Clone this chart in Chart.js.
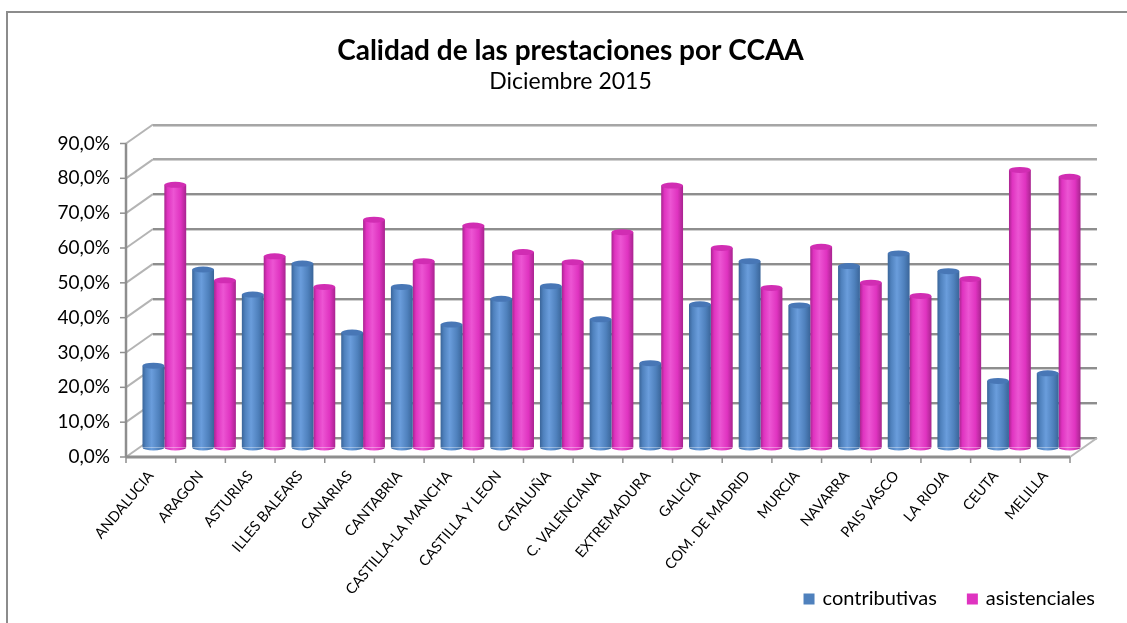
<!DOCTYPE html>
<html><head><meta charset="utf-8">
<script src="https://cdn.jsdelivr.net/npm/chart.js@4.4.1/dist/chart.umd.min.js"></script>
<style>html,body{margin:0;padding:0;background:#fff}</style>
</head><body>
<canvas id="c" width="1127" height="623"></canvas>
<script>
const categories = ['ANDALUCIA','ARAGON','ASTURIAS','ILLES BALEARS','CANARIAS','CANTABRIA','CASTILLA-LA MANCHA','CASTILLA Y LEON','CATALUÑA','C. VALENCIANA','EXTREMADURA','GALICIA','COM. DE MADRID','MURCIA','NAVARRA','PAIS VASCO','LA RIOJA','CEUTA','MELILLA'];
const contributivas = [23.5,51.1,43.9,52.8,33.0,46.1,35.3,42.7,46.3,36.8,24.2,41.1,53.5,40.8,52.1,55.7,50.6,19.1,21.3];
const asistenciales = [75.4,48.0,54.9,46.1,65.4,53.5,63.7,56.1,53.2,61.8,75.2,57.3,45.8,57.6,47.3,43.5,48.4,79.7,77.7];
const yTickValues = [0,10,20,30,40,50,60,70,80,90];
const seriesNames = ['contributivas','asistenciales'];

const DX = 13.5, DY = 9.5;
const FONT = 'Lato';
const colors = {
  blue: {main:'#4f81bd', light:'#6a9ddc', dark:'#3a6599', top:'#4877b6'},
  pink: {main:'#df33c0', light:'#ec55d3', dark:'#a8248f', top:'#d12db3'}
};

function cylGradient(ctx, x, width, c){
  const g = ctx.createLinearGradient(x - width/2, 0, x + width/2, 0);
  g.addColorStop(0, c.dark); g.addColorStop(0.15, c.main); g.addColorStop(0.42, c.light);
  g.addColorStop(0.75, c.main); g.addColorStop(1, c.dark);
  return g;
}

const frame = {
  id:'frame',
  beforeDraw(chart){
    const ctx = chart.ctx;
    ctx.save();
    ctx.strokeStyle = '#8c8c8c'; ctx.lineWidth = 2;
    ctx.strokeRect(7, 12, 1140, 640);
    ctx.restore();
  }
};

// legend drawn at the bottom right, overlapping the space of the rotated labels
const bottomLegend = {
  id:'bottomLegend',
  afterDraw(chart){
    const ctx = chart.ctx;
    ctx.save();
    ctx.font = `20px ${FONT}`;
    ctx.textBaseline = 'middle';
    ctx.textAlign = 'left';
    const yMid = 599, box = 11, gap = 8, itemGap = 30;
    let xr = 1095;
    for (let i = chart.data.datasets.length - 1; i >= 0; i--) {
      const ds = chart.data.datasets[i];
      const w = ctx.measureText(ds.label).width;
      const tx = xr - w;
      ctx.fillStyle = '#000';
      ctx.fillText(ds.label, tx, yMid);
      ctx.fillStyle = ds.backgroundColor;
      ctx.fillRect(tx - gap - box, yMid - box/2, box, box);
      xr = tx - gap - box - itemGap;
    }
    ctx.restore();
  }
};

const walls = {
  id:'walls',
  beforeDatasetsDraw(chart){
    const ctx = chart.ctx, ys = chart.scales.y;
    const L = chart.chartArea.left, R = chart.chartArea.right;
    const n = categories.length, cw = (R - L) / n;
    ctx.save();
    yTickValues.forEach(v => {
      const ym = ys.getPixelForValue(v);
      ctx.strokeStyle = '#b4b4b4'; ctx.lineWidth = 2;
      ctx.beginPath(); ctx.moveTo(L - DX, ym + DY); ctx.lineTo(L + DX, ym - DY); ctx.stroke();
    });
    yTickValues.forEach(v => {
      const yb = Math.round(ys.getPixelForValue(v) - DY);
      ctx.strokeStyle = v >= 80 ? '#a6a6a6' : '#8e8e8e'; ctx.lineWidth = 2;
      ctx.beginPath(); ctx.moveTo(L + DX, yb); ctx.lineTo(R + DX, yb); ctx.stroke();
      ctx.strokeStyle = '#cfcfcf'; ctx.lineWidth = 1;
      ctx.beginPath(); ctx.moveTo(L + DX, yb + 1.5); ctx.lineTo(R + DX, yb + 1.5); ctx.stroke();
    });
    const y0 = ys.getPixelForValue(0), yTop = ys.getPixelForValue(90);
    ctx.strokeStyle = '#b8b8b8'; ctx.lineWidth = 2;
    ctx.beginPath(); ctx.moveTo(R - DX, y0 + DY); ctx.lineTo(R + DX, y0 - DY); ctx.stroke();
    ctx.strokeStyle = '#8e8e8e'; ctx.lineWidth = 3;
    ctx.beginPath(); ctx.moveTo(L - DX, y0 + DY); ctx.lineTo(R - DX, y0 + DY); ctx.stroke();
    ctx.lineWidth = 2.5;
    ctx.beginPath(); ctx.moveTo(L - DX, yTop + DY); ctx.lineTo(L - DX, y0 + DY); ctx.stroke();
    ctx.lineWidth = 1.5;
    yTickValues.forEach(v => {
      const yf = ys.getPixelForValue(v) + DY;
      ctx.beginPath(); ctx.moveTo(L - DX - 6, yf); ctx.lineTo(L - DX, yf); ctx.stroke();
    });
    for (let k = 0; k <= n; k++) {
      const xf = L - DX + k * cw;
      ctx.beginPath(); ctx.moveTo(xf, y0 + DY); ctx.lineTo(xf, y0 + DY + 6); ctx.stroke();
    }
    chart.data.datasets.forEach((ds, di) => {
      const c = di === 0 ? colors.blue : colors.pink;
      chart.getDatasetMeta(di).data.forEach(el => {
        const {x, width} = el.getProps(['x','width'], true);
        el.options = Object.assign({}, el.options, {backgroundColor: cylGradient(ctx, x, width, c)});
      });
    });
    ctx.restore();
  },
  afterDatasetsDraw(chart){
    const ctx = chart.ctx;
    ctx.save();
    chart.data.datasets.forEach((ds, di) => {
      const c = di === 0 ? colors.blue : colors.pink;
      chart.getDatasetMeta(di).data.forEach(el => {
        const {x, y, width, base} = el.getProps(['x','y','width','base'], true);
        ctx.fillStyle = cylGradient(ctx, x, width, c);
        ctx.beginPath(); ctx.ellipse(x, base, width/2, 3, 0, 0, Math.PI); ctx.fill();
        ctx.fillStyle = c.top;
        ctx.beginPath(); ctx.ellipse(x, y, width/2, 3, 0, 0, 2*Math.PI); ctx.fill();
      });
    });
    ctx.restore();
  }
};

const chart = new Chart(document.getElementById('c'), {
  type:'bar',
  data:{
    labels: categories,
    datasets:[
      {label: seriesNames[0], data: contributivas, backgroundColor: colors.blue.main, borderWidth:0, categoryPercentage:0.88, barPercentage:1},
      {label: seriesNames[1], data: asistenciales, backgroundColor: colors.pink.main, borderWidth:0, categoryPercentage:0.88, barPercentage:1}
    ]
  },
  options:{
    responsive:false, animation:false, devicePixelRatio:1,
    layout:{padding:{left:16, right:2, top:0, bottom:0}},
    plugins:{
      title:{display:true, text:'Calidad de las prestaciones por CCAA', color:'#000', font:{family:FONT, size:28, weight:'bold'}, padding:{top:34.5, bottom:0}},
      subtitle:{display:true, text:'Diciembre 2015', color:'#000', font:{family:FONT, size:23}, padding:{top:0, bottom:38.3}},
      legend:{display:false},
      tooltip:{enabled:false}
    },
    scales:{
      x:{
        grid:{display:false}, border:{display:false},
        ticks:{color:'#000', font:{family:FONT, size:14.5}, minRotation:50, maxRotation:50, autoSkip:false, labelOffset:-DX, padding:12},
        afterFit(s){ s.height = 175.5; s.paddingRight = 43.5; }
      },
      y:{
        min:0, max:90,
        grid:{display:false}, border:{display:false},
        ticks:{color:'#000', font:{family:FONT, size:19}, stepSize:10, labelOffset:DY, padding:21.5,
          callback:v => v.toFixed(1).replace('.', ',') + '%'},
        afterFit(s){ s.width = 123.5; }
      }
    }
  },
  plugins:[frame, walls, bottomLegend]
});
</script>
</body></html>
